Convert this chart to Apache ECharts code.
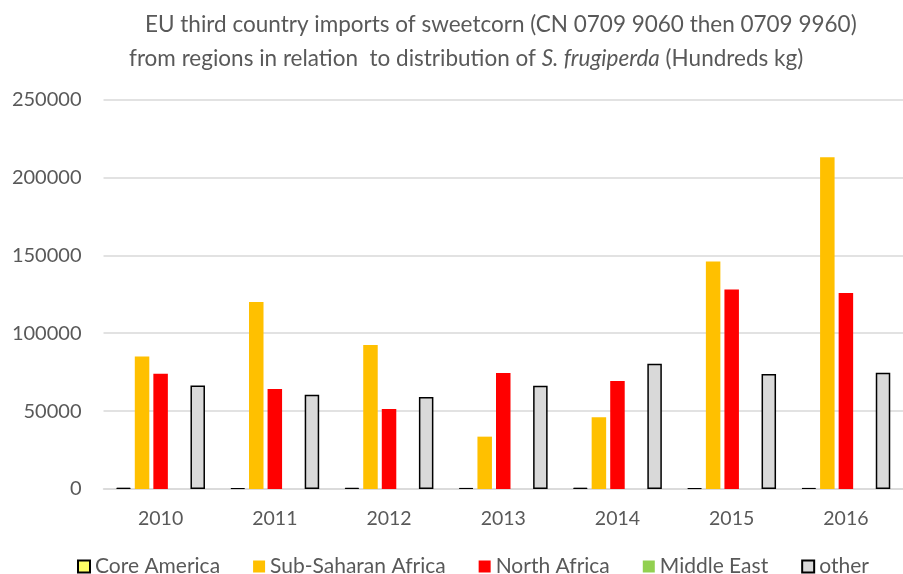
<!DOCTYPE html>
<html><head><meta charset="utf-8">
<script src="https://cdn.jsdelivr.net/npm/echarts@6/dist/echarts.min.js"></script>
<style>html,body{margin:0;padding:0;background:#fff}#c{width:903px;height:574px}</style>
</head><body><div id="c"></div>
<script>
const years = ['2010','2011','2012','2013','2014','2015','2016'];
const coreAmerica = [850, 600, 800, 700, 850, 600, 700];
const subSaharanAfrica = [85000, 120000, 92400, 33600, 46000, 146000, 213000];
const northAfrica = [74000, 64200, 51300, 74400, 69300, 128000, 125800];
const middleEast = [0, 0, 0, 0, 0, 0, 0];
const other = [66500, 60500, 59000, 66300, 80400, 73800, 74600];
const yTicks = [0, 50000, 100000, 150000, 200000, 250000];

const font = 'Lato';
const grey = '#595959';
const chart = echarts.init(document.getElementById('c'), null, {renderer:'canvas'});
chart.setOption({
  animation: false,
  backgroundColor: '#fff',
  title: [
    {text: 'EU third country imports of sweetcorn (CN 0709 9060 then 0709 9960)', left: 140, top: 8,
     textStyle: {fontFamily: font, fontSize: 22.5, fontWeight: 'normal', color: grey}},
    {text: 'from regions in relation  to distribution of {i|S. frugiperda} (Hundreds kg)', left: 124, top: 42,
     textStyle: {fontFamily: font, fontSize: 22.5, fontWeight: 'normal', color: grey,
       rich: {i: {fontFamily: font, fontSize: 22.5, fontStyle: 'italic', color: grey}}}}
  ],
  legend: {
    left: 72, top: 551, itemWidth: 12, itemHeight: 12, itemGap: 33, icon: 'rect',
    textStyle: {fontFamily: font, fontSize: 21, color: grey, lineHeight: 21},
    data: ['Core America','Sub-Saharan Africa','North Africa','Middle East','other']
  },
  grid: {left: 103.5, right: -10, top: 99.5, bottom: 85, containLabel: false},
  xAxis: {
    type: 'category', data: years,
    axisLine: {lineStyle: {color: '#D9D9D9', width: 1.5}},
    axisTick: {show: false},
    axisLabel: {fontFamily: font, fontSize: 19.5, color: grey, margin: 20}
  },
  yAxis: {
    type: 'value', min: 0, max: yTicks[yTicks.length-1], interval: 50000,
    axisLine: {show: false}, axisTick: {show: false},
    splitLine: {lineStyle: {color: '#D9D9D9', width: 1.5}},
    axisLabel: {fontFamily: font, fontSize: 20, color: grey, margin: 22,
      formatter: v => String(v)}
  },
  series: [
    {name: 'Core America', type: 'bar', data: coreAmerica, barWidth: 14.5, barGap: '28%',
     itemStyle: {color: '#FFFF66', borderColor: '#000', borderWidth: 1}},
    {name: 'Sub-Saharan Africa', type: 'bar', data: subSaharanAfrica, barWidth: 14.5, barGap: '28%',
     itemStyle: {color: '#FFC000'}},
    {name: 'North Africa', type: 'bar', data: northAfrica, barWidth: 14.5, barGap: '28%',
     itemStyle: {color: '#FF0000'}},
    {name: 'Middle East', type: 'bar', data: middleEast, barWidth: 14.5, barGap: '28%',
     itemStyle: {color: '#92D050'}},
    {name: 'other', type: 'bar', data: other, barWidth: 14.5, barGap: '28%',
     itemStyle: {color: '#D9D9D9', borderColor: '#000', borderWidth: 1.5}}
  ]
});
</script></body></html>
